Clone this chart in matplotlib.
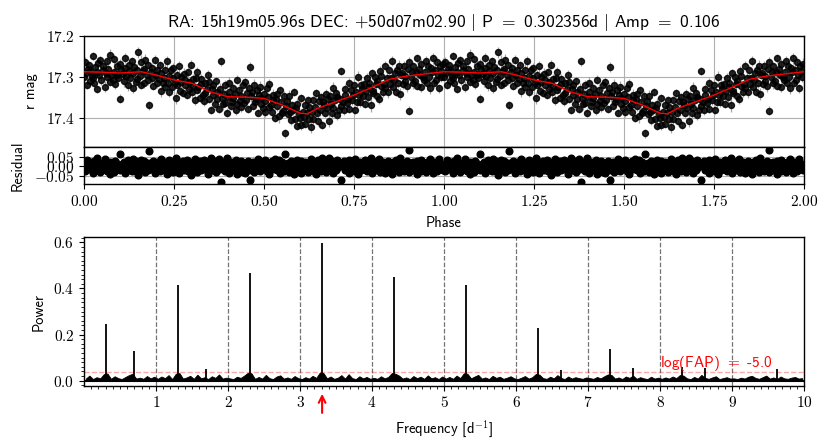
import numpy as np
import matplotlib
matplotlib.use("Agg")
import matplotlib.pyplot as plt
from matplotlib.ticker import FuncFormatter, FixedLocator, MultipleLocator

# ---------------- data ----------------
title_text = ("RA: 15h19m05.96s DEC: $+$50d07m02.90 $|$ P $=$ 0.302356d $|$ Amp $=$ 0.106")
period_freq = 3.307
fap_level = 0.039
fap_label = "log(FAP) $=$ -5.0"

# model light curve (phase, r mag)
model_phase = [0.00, 0.05, 0.10, 0.16, 0.20, 0.25, 0.30, 0.35, 0.40, 0.45, 0.50,
               0.55, 0.60, 0.62, 0.65, 0.70, 0.75, 0.80, 0.85, 0.90, 0.95, 1.00]
model_mag = [17.288, 17.289, 17.291, 17.288, 17.296, 17.308, 17.316, 17.337, 17.349, 17.350, 17.353,
             17.369, 17.389, 17.391, 17.377, 17.361, 17.345, 17.326, 17.306, 17.298, 17.293, 17.288]

# observed phases (thousandths of a cycle)
obs_phase_milli = [
    0, 4, 5, 9, 10, 13, 17, 18, 21, 24, 26, 28, 31, 35, 36, 39, 43, 45, 47, 52,
    54, 57, 61, 63, 64, 68, 72, 73, 76, 80, 82, 83, 87, 91, 92, 95, 99, 101, 103, 107,
    111, 113, 114, 118, 122, 124, 125, 129, 133, 135, 136, 140, 144, 146, 148, 151, 155, 157, 159, 163,
    167, 168, 170, 174, 178, 179, 181, 185, 189, 190, 192, 196, 200, 202, 203, 207, 211, 213, 215, 219,
    222, 224, 226, 230, 233, 235, 237, 241, 245, 246, 248, 252, 256, 257, 259, 263, 267, 269, 270, 274,
    278, 280, 281, 285, 289, 291, 293, 296, 300, 302, 304, 307, 311, 313, 315, 318, 322, 324, 326, 330,
    334, 335, 337, 341, 345, 346, 348, 352, 356, 358, 359, 363, 367, 369, 370, 374, 378, 380, 382, 386,
    389, 391, 393, 397, 400, 402, 404, 408, 412, 413, 415, 419, 423, 425, 426, 430, 434, 436, 437, 441,
    445, 447, 449, 452, 456, 458, 460, 463, 467, 469, 471, 475, 478, 480, 482, 486, 489, 491, 493, 497,
    501, 502, 504, 508, 512, 513, 515, 519, 523, 525, 526, 530, 534, 536, 537, 541, 545, 547, 549, 552,
    556, 558, 560, 563, 567, 569, 571, 575, 578, 580, 582, 586, 589, 591, 593, 597, 601, 602, 604, 608,
    612, 613, 615, 619, 623, 625, 626, 630, 634, 636, 637, 641, 645, 647, 649, 652, 656, 658, 660, 663,
    667, 669, 671, 675, 678, 680, 682, 686, 689, 691, 693, 697, 701, 702, 704, 708, 712, 713, 715, 719,
    723, 725, 726, 730, 734, 736, 737, 741, 745, 747, 749, 752, 756, 758, 760, 763, 767, 769, 771, 775,
    778, 780, 782, 786, 789, 791, 793, 797, 801, 802, 804, 808, 812, 813, 815, 819, 823, 825, 826, 830,
    834, 836, 837, 841, 845, 847, 849, 852, 856, 858, 860, 863, 867, 869, 871, 875, 878, 880, 882, 886,
    889, 891, 893, 897, 901, 902, 904, 908, 912, 913, 915, 919, 923, 925, 926, 930, 934, 936, 937, 941,
    945, 947, 949, 952, 956, 958, 960, 963, 967, 969, 971, 975, 978, 980, 982, 986, 989, 991, 993, 997,
]

# residuals from the model (milli-mag)
resid_milli = [
    12, -25, 4, 31, -8, -17, 22, -3, 9, -38, 15, 27, -12, -1, 41, -22, 6, -30, 18, -6,
    -14, 35, 2, -27, 11, -9, 24, -44, 7, 19, -2, -33, 28, 5, -16, 13, -21, 63, -7, 3,
    21, -11, -36, 8, 30, -4, -19, 14, -28, 39, 1, -13, 25, -6, 17, -48, 10, -24, 33, -2,
    -9, 26, -31, 4, 16, -20, 78, -5, -15, 9, 29, -37, -1, 20, -12, 7, -26, 37, -8, 14,
    3, -18, 23, -41, 12, 34, -7, -23, 18, -3, -29, 6, 43, -14, 10, -35, 24, -10, 1, 28,
    -20, 8, -6, 32, -26, 15, -1, -45, 21, 5, -12, 38, -17, 11, -33, 2, 26, -8, -22, 16,
    30, -15, 9, -3, -39, 19, -24, 44, -9, 6, -18, 27, -30, 13, -5, 35, -13, -82, 8, 22,
    -4, 17, -27, 40, 1, -11, -34, 23, 12, -21, 3, -7, 31, -42, 18, -16, 9, 25, -2, -29,
    14, -37, 6, -10, 29, -23, -74, -4, -14, 20, -31, 10, 2, -19, 36, -8, -26, 15, -1, 24,
    -12, 5, 33, -28, -6, 18, -40, 11, 26, -3, -17, 39, -9, 7, -22, 30, -35, -5, 21, 13,
    -25, 66, -2, -15, 16, -30, 8, 27, -11, 1, -44, 19, -7, 34, -20, 4, 12, -36, 28, -4,
    9, -21, 24, -1, -32, 15, -13, 37, 3, -27, 20, -8, -39, 11, 31, -16, 6, -24, 45, -10,
    -3, 18, -29, 7, -14, 41, -19, 2, 25, -37, 13, -5, -22, 33, -11, 22, -2, -71, 16, 8,
    27, -9, -23, 14, 4, -34, 30, -15, 10, -1, -26, 38, -6, 19, -41, 5, 24, -18, -8, 12,
    -16, 32, 1, -28, 20, -4, -12, 43, -35, 9, 15, -21, -3, 26, -10, 36, -31, 7, -17, 23,
    6, -38, 17, -7, 29, -24, 11, -2, -43, 21, 3, -14, 34, -19, 13, -29, 40, -5, -11, 18,
    -27, 10, -1, 25, -16, 85, -33, 4, -9, 19, -22, 14, -6, -40, 28, -13, 2, 31, -25, 8,
    15, -5, -31, 22, -18, 9, 35, -12, -2, -36, 24, -8, 17, -27, 5, 39, -15, -3, 12, -20,
]

# photometric errors (milli-mag)
err_milli = [
    12, 10, 14, 11, 13, 9, 12, 15, 11, 10, 13, 12, 16, 11, 9, 12, 14, 10, 13, 11,
    11, 13, 10, 12, 15, 11, 9, 13, 12, 14, 10, 12, 11, 16, 13, 10, 12, 11, 14, 12,
    13, 11, 12, 10, 14, 12, 11, 15, 9, 12, 13, 11, 10, 14, 12, 13, 11, 16, 10, 12,
    10, 12, 15, 11, 13, 10, 12, 14, 11, 13, 9, 12, 15, 10, 11, 13, 12, 14, 11, 10,
    12, 14, 11, 13, 10, 12, 16, 11, 12, 10, 13, 11, 14, 12, 9, 13, 11, 12, 15, 11,
    14, 11, 12, 10, 13, 15, 11, 12, 14, 10, 12, 13, 11, 9, 14, 12, 10, 13, 12, 16,
    11, 13, 10, 14, 12, 11, 13, 9, 15, 12, 10, 14, 11, 13, 12, 10, 16, 11, 12, 13,
    12, 10, 13, 11, 15, 12, 14, 10, 11, 13, 12, 9, 14, 11, 13, 15, 10, 12, 11, 14,
    13, 12, 11, 14, 10, 12, 13, 16, 11, 10, 14, 12, 13, 11, 9, 12, 15, 10, 13, 12,
    10, 14, 12, 11, 13, 9, 12, 15, 12, 11, 13, 10, 14, 12, 11, 16, 10, 13, 12, 11,
    12, 11, 15, 10, 12, 14, 11, 13, 10, 12, 9, 14, 12, 11, 15, 13, 10, 12, 14, 11,
    11, 13, 12, 14, 10, 12, 11, 13, 16, 10, 12, 14, 11, 9, 13, 12, 15, 11, 10, 13,
    14, 10, 12, 11, 13, 15, 12, 10, 11, 14, 12, 13, 9, 12, 11, 16, 13, 10, 12, 14,
    12, 13, 11, 10, 14, 12, 9, 13, 12, 15, 11, 10, 13, 12, 14, 11, 12, 16, 10, 11,
    10, 12, 14, 13, 11, 9, 12, 15, 10, 13, 12, 11, 14, 10, 12, 13, 11, 12, 16, 12,
    13, 11, 10, 12, 15, 12, 14, 11, 13, 10, 12, 9, 11, 14, 12, 13, 15, 10, 11, 12,
    11, 14, 12, 13, 10, 11, 12, 16, 12, 14, 10, 13, 11, 12, 9, 15, 12, 11, 13, 10,
    12, 10, 13, 11, 14, 12, 15, 10, 11, 13, 12, 14, 9, 12, 16, 11, 13, 10, 12, 14,
]

# periodogram: noise level on a regular grid 0.025..9.975 d^-1 (power x 1000)
noise_milli = [
    9, 22, 7, 15, 10, 28, 31, 8, 19, 11, 7, 16, 24, 30, 9, 13, 8, 20, 10, 17,
    8, 18, 11, 24, 7, 30, 33, 9, 14, 21, 8, 26, 10, 15, 7, 19, 12, 27, 9, 13,
    10, 7, 17, 12, 22, 34, 32, 8, 16, 9, 25, 11, 7, 18, 23, 9, 14, 8, 20, 11,
    7, 15, 9, 21, 12, 35, 33, 10, 18, 8, 13, 24, 9, 28, 11, 7, 19, 10, 16, 8,
    12, 8, 19, 10, 16, 33, 30, 22, 9, 14, 7, 20, 11, 17, 8, 23, 10, 15, 7, 18,
    9, 16, 8, 22, 11, 32, 30, 10, 18, 25, 9, 14, 7, 21, 12, 17, 8, 13, 19, 10,
    7, 13, 20, 9, 15, 29, 26, 11, 8, 17, 10, 24, 12, 7, 18, 9, 15, 11, 8, 14,
    11, 8, 16, 10, 19, 27, 25, 9, 14, 7, 18, 12, 22, 8, 15, 10, 7, 17, 9, 13,
    8, 14, 9, 18, 11, 24, 22, 10, 7, 16, 9, 25, 12, 8, 14, 19, 7, 11, 15, 9,
    10, 7, 13, 9, 17, 21, 12, 8, 15, 22, 9, 14, 7, 18, 10, 8, 13, 16, 9, 11,
]
peak_freq = [0.307, 0.693, 1.307, 1.70, 2.307, 3.307, 4.307, 5.307, 6.307, 6.62,
             7.307, 7.62, 8.307, 8.62, 9.62]
peak_power = [0.245, 0.127, 0.415, 0.051, 0.468, 0.596, 0.451, 0.415, 0.227, 0.046,
              0.139, 0.056, 0.060, 0.054, 0.051]

phase_ticks = [0.00, 0.25, 0.50, 0.75, 1.00, 1.25, 1.50, 1.75, 2.00]
mag_ticks = [17.2, 17.3, 17.4]
resid_ticks = [-0.05, 0.00, 0.05]
freq_ticks = [1, 2, 3, 4, 5, 6, 7, 8, 9, 10]
power_ticks = [0.0, 0.2, 0.4, 0.6]

# ---------------- derived ----------------
assert len(obs_phase_milli) == len(resid_milli) == len(err_milli)
ph = np.array(obs_phase_milli) / 1000.0
res = np.array(resid_milli) / 1000.0
err = np.array(err_milli) / 1000.0
mag = np.interp(ph, model_phase, model_mag) + res

ph2 = np.concatenate([ph, ph + 1])
mag2 = np.concatenate([mag, mag])
err2 = np.concatenate([err, err])
res2 = np.concatenate([res, res])
mph2 = np.concatenate([model_phase, np.array(model_phase[1:]) + 1])
mmag2 = np.concatenate([model_mag, model_mag[1:]])

noise = np.array(noise_milli) / 1000.0
freq = np.linspace(0.025, 9.975, len(noise))

# ---------------- style ----------------
plt.rcParams["mathtext.fontset"] = "cm"
plt.rcParams["font.family"] = ["cmss10", "DejaVu Sans"]
plt.rcParams["axes.linewidth"] = 1.0

def mfmt(fmt):
    return FuncFormatter(lambda v, p: "$" + format(v, fmt) + "$")

fig = plt.figure(figsize=(8.30, 4.47), dpi=100)
L, W = 0.1012, 0.8675
ax1 = fig.add_axes([L, 0.6718, W, 0.2483])
ax2 = fig.add_axes([L, 0.5884, W, 0.0834], sharex=ax1)
ax3 = fig.add_axes([L, 0.1371, W, 0.3320])

TICK_FS = 11
LAB_FS = 10.5

# --- light curve ---
ax1.errorbar(ph2, mag2, yerr=err2, fmt="o", ms=4.3, mfc="k", mec="k",
             ecolor="0.6", elinewidth=0.9, alpha=0.85, zorder=2)
ax1.plot(mph2, mmag2, color="red", lw=1.0, zorder=5)
ax1.set_ylim(17.471, 17.2)
ax1.set_xlim(0, 2)
ax1.set_yticks(mag_ticks)
ax1.yaxis.set_major_formatter(mfmt(".1f"))
ax1.set_xticks(phase_ticks)
ax1.tick_params(axis="x", bottom=False, labelbottom=False)
ax1.grid(True, color="#b0b0b0", lw=0.8)
ax1.set_ylabel("r mag", fontsize=LAB_FS)
ax1.yaxis.set_label_coords(-0.064, 0.5)
ax1.set_title(title_text, fontsize=12.5, pad=6)
ax1.tick_params(labelsize=TICK_FS)

# --- residuals ---
ax2.plot(ph2, res2, "o", ms=4.8, color="k", zorder=2)
ax2.set_ylim(-0.094, 0.102)
ax2.set_yticks(resid_ticks)
ax2.yaxis.set_major_formatter(mfmt(".2f"))
ax2.set_xticks(phase_ticks)
ax2.xaxis.set_major_formatter(mfmt(".2f"))
ax2.grid(True, color="#b0b0b0", lw=0.8)
ax2.set_ylabel("Residual", fontsize=LAB_FS)
ax2.yaxis.set_label_coords(-0.083, 0.5)
ax2.set_xlabel("Phase", fontsize=LAB_FS, labelpad=5)
ax2.tick_params(labelsize=TICK_FS)

# --- periodogram ---
ax3.fill_between(freq, 0, noise, color="k", lw=0.6, zorder=3)
ax3.vlines(peak_freq, 0, peak_power, color="k", lw=1.3, zorder=3)
ax3.axhline(0, color="k", lw=1.5, zorder=3)
for f in range(1, 10):
    ax3.axvline(f, color="0.45", ls="--", lw=0.9, zorder=1)
ax3.axhline(fap_level, color="red", alpha=0.35, ls="--", lw=1.0, zorder=2)
ax3.text(8.0, fap_level - 0.006, fap_label, color="red", fontsize=11,
         ha="left", va="bottom", zorder=4)
ax3.annotate("", xy=(period_freq, -0.045), xytext=(period_freq, -0.152),
             xycoords="data", annotation_clip=False,
             arrowprops=dict(arrowstyle="->", color="red", lw=1.5,
                             mutation_scale=12))
ax3.set_xlim(0, 10)
ax3.set_ylim(-0.022, 0.622)
ax3.set_xticks(freq_ticks)
ax3.xaxis.set_major_formatter(mfmt("d"))
ax3.xaxis.set_minor_locator(FixedLocator([x / 10 for x in range(1, 100) if x % 10]))
ax3.set_yticks(power_ticks)
ax3.yaxis.set_major_formatter(mfmt(".1f"))
ax3.yaxis.set_minor_locator(MultipleLocator(0.02))
ax3.set_ylabel("Power", fontsize=LAB_FS)
ax3.yaxis.set_label_coords(-0.053, 0.5)
ax3.set_xlabel("Frequency [d$^{-1}$]", fontsize=LAB_FS, labelpad=6)
ax3.tick_params(labelsize=TICK_FS)

fig.savefig("out.png", dpi=100)
